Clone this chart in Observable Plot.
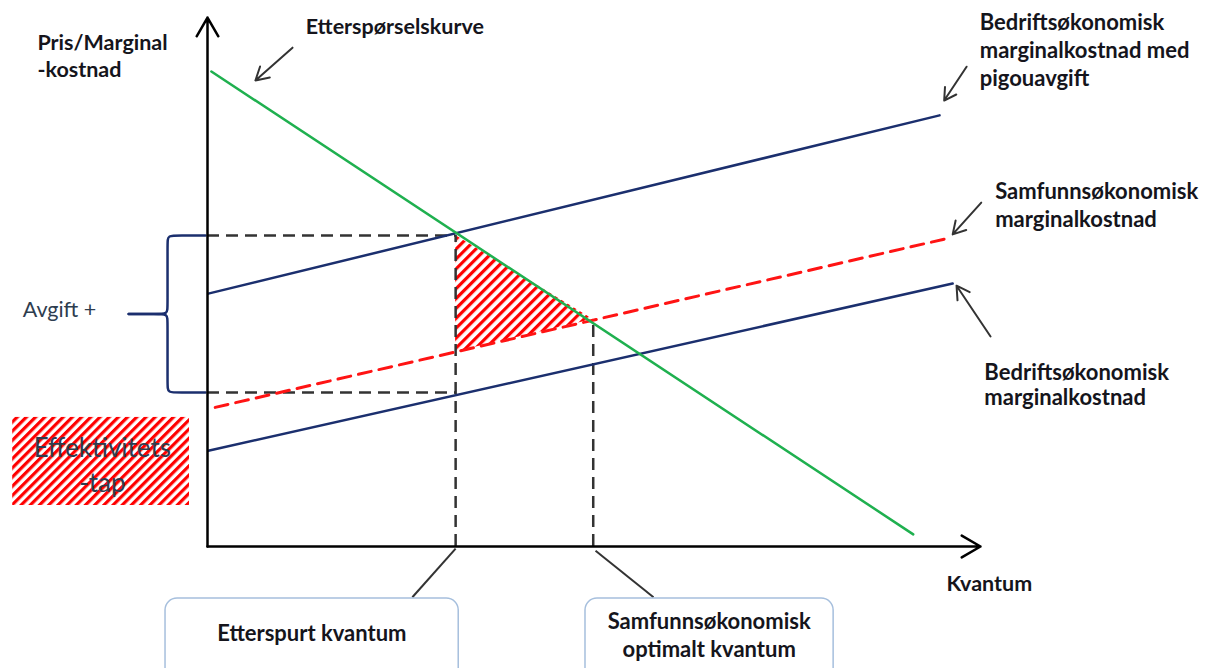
<!DOCTYPE html>
<html><head><meta charset="utf-8">
<script src="https://cdn.jsdelivr.net/npm/d3@7"></script>
<script src="https://cdn.jsdelivr.net/npm/@observablehq/plot@0.6"></script>
<style>
body{margin:0;background:#fff;}
#chart svg{display:block;overflow:visible;}
</style></head><body><div id="chart"></div>
<script>
// ---- data (quantity q, price p in arbitrary units 0..100) ----
const demandCurve = [{q:0.5,p:89.8},{q:91.3,p:2.3}];
const mcWithTax   = [{q:0.1,p:47.8},{q:94.7,p:81.5}];
const socialMC    = [{q:1.0,p:26.3},{q:96.2,p:58.4}];
const privateMC   = [{q:0.1,p:18.1},{q:96.4,p:49.7}];
const demandedQ = 32.1, demandedP = 58.8;      // demand meets MC with tax
const optimalQ  = 49.9, optimalP  = 42.9;      // demand meets social MC
const socialAtDemandedQ = 36.8;
const taxLowP = 29.1;
const deadweight = [
  {q:demandedQ, low:socialAtDemandedQ, high:demandedP},
  {q:optimalQ,  low:optimalP,          high:optimalP}
];
const curveLabels = [
  "Etterspørselskurve",
  "Bedriftsøkonomisk\nmarginalkostnad med\npigouavgift",
  "Samfunnsøkonomisk\nmarginalkostnad",
  "Bedriftsøkonomisk\nmarginalkostnad"
];
const axisLabels = ["Pris/Marginal\n-kostnad", "Kvantum"];
const boxLabels = ["Etterspurt kvantum", "Samfunnsøkonomisk\noptimalt kvantum"];
const taxLabel = "Avgift +";
const lossLabel = "Effektivitets\n-tap";

// ---- styles ----
const navy = "#1b2f6e", green = "#1fb04f", red = "#ff1414", ink = "#15151c", grey = "#333";

const braceTop = demandedP, braceBot = taxLowP, braceMid = (braceTop + braceBot) / 2;
const braceUpper = [[-0.26,braceTop],[-3.6,braceTop],[-5.17,braceTop],[-5.17,braceTop-1.2],[-5.17,braceMid+1.2],[-5.17,braceMid],[-6.6,braceMid],[-10.2,braceMid]];
const braceLower = [[-10.2,braceMid],[-6.6,braceMid],[-5.17,braceMid],[-5.17,braceMid-1.2],[-5.17,braceBot+1.2],[-5.17,braceBot],[-3.6,braceBot],[-0.26,braceBot]];

const annotArrows = [
  {x1:11.0, y1:94.3, x2:6.2,  y2:88.1},
  {x1:98.2, y1:90.7, x2:95.3, y2:84.3},
  {x1:100.1,y1:65.0, x2:96.4, y2:59.0},
  {x1:101.3,y1:39.7, x2:96.9, y2:49.3}
];
const leaders = [
  {x1:demandedQ, y1:-0.4, x2:26.5, y2:-9.6},
  {x1:optimalQ+0.3, y1:-0.8, x2:57.7, y2:-9.6}
];
const boxes = [
  {x1:-5.43, x2:32.5, y1:-9.83, y2:-25.3},
  {x1:48.9,  x2:81.0, y1:-9.83, y2:-25.3}
];

const plot = Plot.plot({
  width:1206, height:668, margin:0,
  x:{domain:[0,100], range:[207,980], axis:null},
  y:{domain:[0,100], range:[546,17], axis:null},
  style:{fontFamily:"Lato, 'Open Sans', sans-serif", background:"white", overflow:"visible"},
  marks:[
    // efficiency-loss legend box
    Plot.rect([lossLabel], {x1:-25.2, x2:-2.33, y1:7.75, y2:24.4, fill:"url(#hatchBox)", ariaLabel:"effbox"}),
    Plot.text([lossLabel], {x:-13.6, y:15.7, text:d=>d, fontSize:26, fill:"#2e3d4f", lineHeight:1.35, fontWeight:400}),
    // deadweight loss triangle
    Plot.areaY(deadweight, {x:"q", y1:"low", y2:"high", fill:"url(#hatchTri)"}),
    // dashed guides
    Plot.ruleY([demandedP], {x1:0, x2:demandedQ, stroke:grey, strokeWidth:2.5, strokeDasharray:"12,7"}),
    Plot.ruleY([taxLowP],   {x1:0, x2:demandedQ, stroke:grey, strokeWidth:2.5, strokeDasharray:"12,7"}),
    Plot.ruleX([demandedQ], {y1:0, y2:demandedP, stroke:grey, strokeWidth:2.5, strokeDasharray:"12,7"}),
    Plot.ruleX([optimalQ],  {y1:0, y2:optimalP,  stroke:grey, strokeWidth:2.5, strokeDasharray:"12,7"}),
    // curves
    Plot.line(socialMC,  {x:"q", y:"p", stroke:red, strokeWidth:3, strokeDasharray:"13,8"}),
    Plot.line(mcWithTax, {x:"q", y:"p", stroke:navy, strokeWidth:2.5}),
    Plot.line(privateMC, {x:"q", y:"p", stroke:navy, strokeWidth:2.5}),
    Plot.line(demandCurve, {x:"q", y:"p", stroke:green, strokeWidth:2.5}),
    // brace
    Plot.line(braceUpper, {x:d=>d[0], y:d=>d[1], curve:"basis", stroke:navy, strokeWidth:2.5}),
    Plot.line(braceLower, {x:d=>d[0], y:d=>d[1], curve:"basis", stroke:navy, strokeWidth:2.5}),
    // axes
    Plot.arrow([0], {x1:0, y1:0, x2:0, y2:100, stroke:"black", strokeWidth:2.5, headLength:13}),
    Plot.arrow([0], {x1:0, y1:0, x2:100, y2:0, stroke:"black", strokeWidth:2.5, headLength:13}),
    // annotation arrows and leader lines
    Plot.arrow(annotArrows, {x1:"x1", y1:"y1", x2:"x2", y2:"y2", stroke:grey, strokeWidth:2, headLength:11}),
    Plot.link(leaders, {x1:"x1", y1:"y1", x2:"x2", y2:"y2", stroke:grey, strokeWidth:2}),
    // bottom boxes
    Plot.rect(boxes, {x1:"x1", x2:"x2", y1:"y1", y2:"y2", rx:12, fill:"white", stroke:"#a6bfdd", strokeWidth:1.5}),
    Plot.text([boxLabels[0]], {x:13.5, y:-16.6, text:d=>d, fontSize:22, fontWeight:700, fill:ink}),
    Plot.text([boxLabels[1]], {x:64.9, y:-16.5, text:d=>d, fontSize:22, fontWeight:700, fill:ink, lineHeight:1.3}),
    // labels
    Plot.text([axisLabels[0]], {x:-22.0, y:92.9, text:d=>d, fontSize:21.5, fontWeight:700, fill:ink, textAnchor:"start", lineHeight:1.25}),
    Plot.text([axisLabels[1]], {x:95.6, y:-7.2, text:d=>d, fontSize:21.5, fontWeight:700, fill:ink, textAnchor:"start"}),
    Plot.text([curveLabels[0]], {x:12.7, y:98.1, text:d=>d, fontSize:21.5, fontWeight:700, fill:ink, textAnchor:"start"}),
    Plot.text([curveLabels[1]], {x:99.9, y:94.0, text:d=>d, fontSize:22, fontWeight:700, fill:ink, textAnchor:"start", lineHeight:1.27, ariaLabel:"pigou"}),
    Plot.text([curveLabels[2]], {x:101.9, y:64.8, text:d=>d, fontSize:22, fontWeight:700, fill:ink, textAnchor:"start", lineHeight:1.27}),
    Plot.text([curveLabels[3]], {x:100.5, y:30.7, text:d=>d, fontSize:22, fontWeight:700, fill:ink, textAnchor:"start", lineHeight:1.15}),
    Plot.text([taxLabel], {x:-23.9, y:44.6, text:d=>d, fontSize:21.5, fontWeight:400, fill:"#2e3d4f", textAnchor:"start"})
  ]
});

const defs = document.createElementNS("http://www.w3.org/2000/svg", "defs");
defs.innerHTML =
  '<pattern id="hatchBox" patternUnits="userSpaceOnUse" width="6.5" height="6.5" patternTransform="rotate(45)"><rect width="6.5" height="6.5" fill="white"/><rect width="3.2" height="6.5" fill="#ff0000"/></pattern>' +
  '<pattern id="hatchTri" patternUnits="userSpaceOnUse" width="7" height="7" patternTransform="rotate(45)"><rect width="7" height="7" fill="white"/><rect width="3.2" height="7" fill="#ff0000"/></pattern>';
plot.prepend(defs);
plot.querySelectorAll('g[aria-label="effbox"] rect').forEach(r => r.style.filter = "drop-shadow(2px 3px 2px rgba(0,0,0,0.3))");
document.getElementById("chart").appendChild(plot);
</script></body></html>
